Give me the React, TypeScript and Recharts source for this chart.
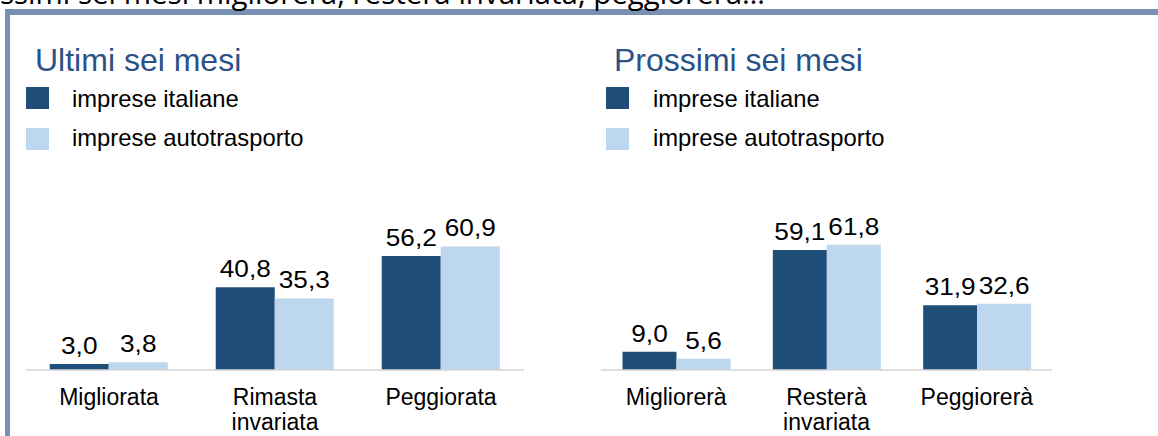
import React from 'react';
import { BarChart, Bar, XAxis, YAxis, LabelList } from 'recharts';

const categoriesPast = ['Migliorata', 'Rimasta invariata', 'Peggiorata'];
const italianePast = [3.0, 40.8, 56.2];
const autotrasportoPast = [3.8, 35.3, 60.9];

const categoriesNext = ['Migliorerà', 'Resterà invariata', 'Peggiorerà'];
const italianeNext = [9.0, 59.1, 31.9];
const autotrasportoNext = [5.6, 61.8, 32.6];

const seriesNames = ['imprese italiane', 'imprese autotrasporto'];
const panelTitles = ['Ultimi sei mesi', 'Prossimi sei mesi'];
const headline = 'ssimi sei mesi migliorerà, resterà invariata, peggiorerà…';

const DARK = '#1f4e79';
const LIGHT = '#bdd7ee';
const TITLE = '#2a5286';
const FONT = '"Liberation Sans", Arial, sans-serif';

const fmt = (v: number) => v.toFixed(1).replace('.', ',');

const buildRows = (cats: string[], a: number[], b: number[]) =>
  cats.map((c, i) => ({ cat: c, italiane: a[i], autotrasporto: b[i] }));

const ValueLabel = (props: any) => {
  const { x, y, width, value } = props;
  const cx = x + width / 2;
  return (
    <text
      transform={`translate(${cx},${y - 10}) scale(1.14,1)`}
      textAnchor="middle"
      fontSize={23}
      fontFamily={FONT}
      fill="#000"
    >
      {fmt(value)}
    </text>
  );
};

const CatTick = (props: any) => {
  const { x, y, payload } = props;
  const words = String(payload.value).split(' ');
  return (
    <text x={x} y={y + 35} textAnchor="middle" fontSize={23} fontFamily={FONT} fill="#000">
      {words.map((w, i) => (
        <tspan key={i} x={x} dy={i === 0 ? 0 : 25}>{w}</tspan>
      ))}
    </text>
  );
};

const Panel = ({ rows, left, width, mLeft, mRight }: any) => (
  <div style={{ position: 'absolute', left, top: 200 }}>
    <BarChart
      width={width}
      height={236}
      data={rows}
      margin={{ top: 28, right: mRight, bottom: 0, left: mLeft }}
      barCategoryGap="14.3%"
      barGap={0}
    >
      <YAxis hide domain={[0, 70]} />
      <XAxis
        dataKey="cat"
        height={66}
        tickLine={false}
        tickSize={0}
        tickMargin={0}
        axisLine={{ stroke: '#d4d4d4', strokeWidth: 1.5 }}
        tick={<CatTick />}
        interval={0}
      />
      <Bar dataKey="italiane" fill={DARK} isAnimationActive={false}>
        <LabelList dataKey="italiane" content={<ValueLabel />} />
      </Bar>
      <Bar dataKey="autotrasporto" fill={LIGHT} isAnimationActive={false}>
        <LabelList dataKey="autotrasporto" content={<ValueLabel />} />
      </Bar>
    </BarChart>
  </div>
);

const Header = ({ idx, x, sx, tx }: { idx: number; x: number; sx: number; tx: number }) => (
  <g>
    <text x={x} y={71} fontSize={32} fontFamily={FONT} fill={TITLE}>{panelTitles[idx]}</text>
    <rect x={sx} y={87} width={23} height={22} fill={DARK} />
    <rect x={sx} y={128} width={23} height={22} fill={LIGHT} />
    <text x={tx} y={107} fontSize={23.8} fontFamily={FONT} fill="#000">{seriesNames[0]}</text>
    <text x={tx} y={146} fontSize={23.8} fontFamily={FONT} fill="#000">{seriesNames[1]}</text>
  </g>
);

export default function App() {
  return (
    <div style={{ position: 'fixed', left: 0, top: 0, width: 1158, height: 436, overflow: 'hidden', background: '#fff', fontFamily: FONT }}>
      <div
        style={{
          position: 'absolute',
          left: 5,
          top: 9,
          width: 1300,
          height: 600,
          borderLeft: '5px solid #7890b2',
          borderTop: '6px solid #7890b2',
        }}
      />
      <svg width={1158} height={436} style={{ position: 'absolute', left: 0, top: 0 }}>
        <text x={0} y={4} fontSize={29.5} fontFamily='"Open Sans", sans-serif' fill="#000">{headline}</text>
        <Header idx={0} x={35} sx={26} tx={72} />
        <Header idx={1} x={614} sx={606} tx={653} />
      </svg>
      <Panel rows={buildRows(categoriesPast, italianePast, autotrasportoPast)} left={0} width={540} mLeft={26} mRight={16} />
      <Panel rows={buildRows(categoriesNext, italianeNext, autotrasportoNext)} left={580} width={500} mLeft={21} mRight={28} />
    </div>
  );
}
